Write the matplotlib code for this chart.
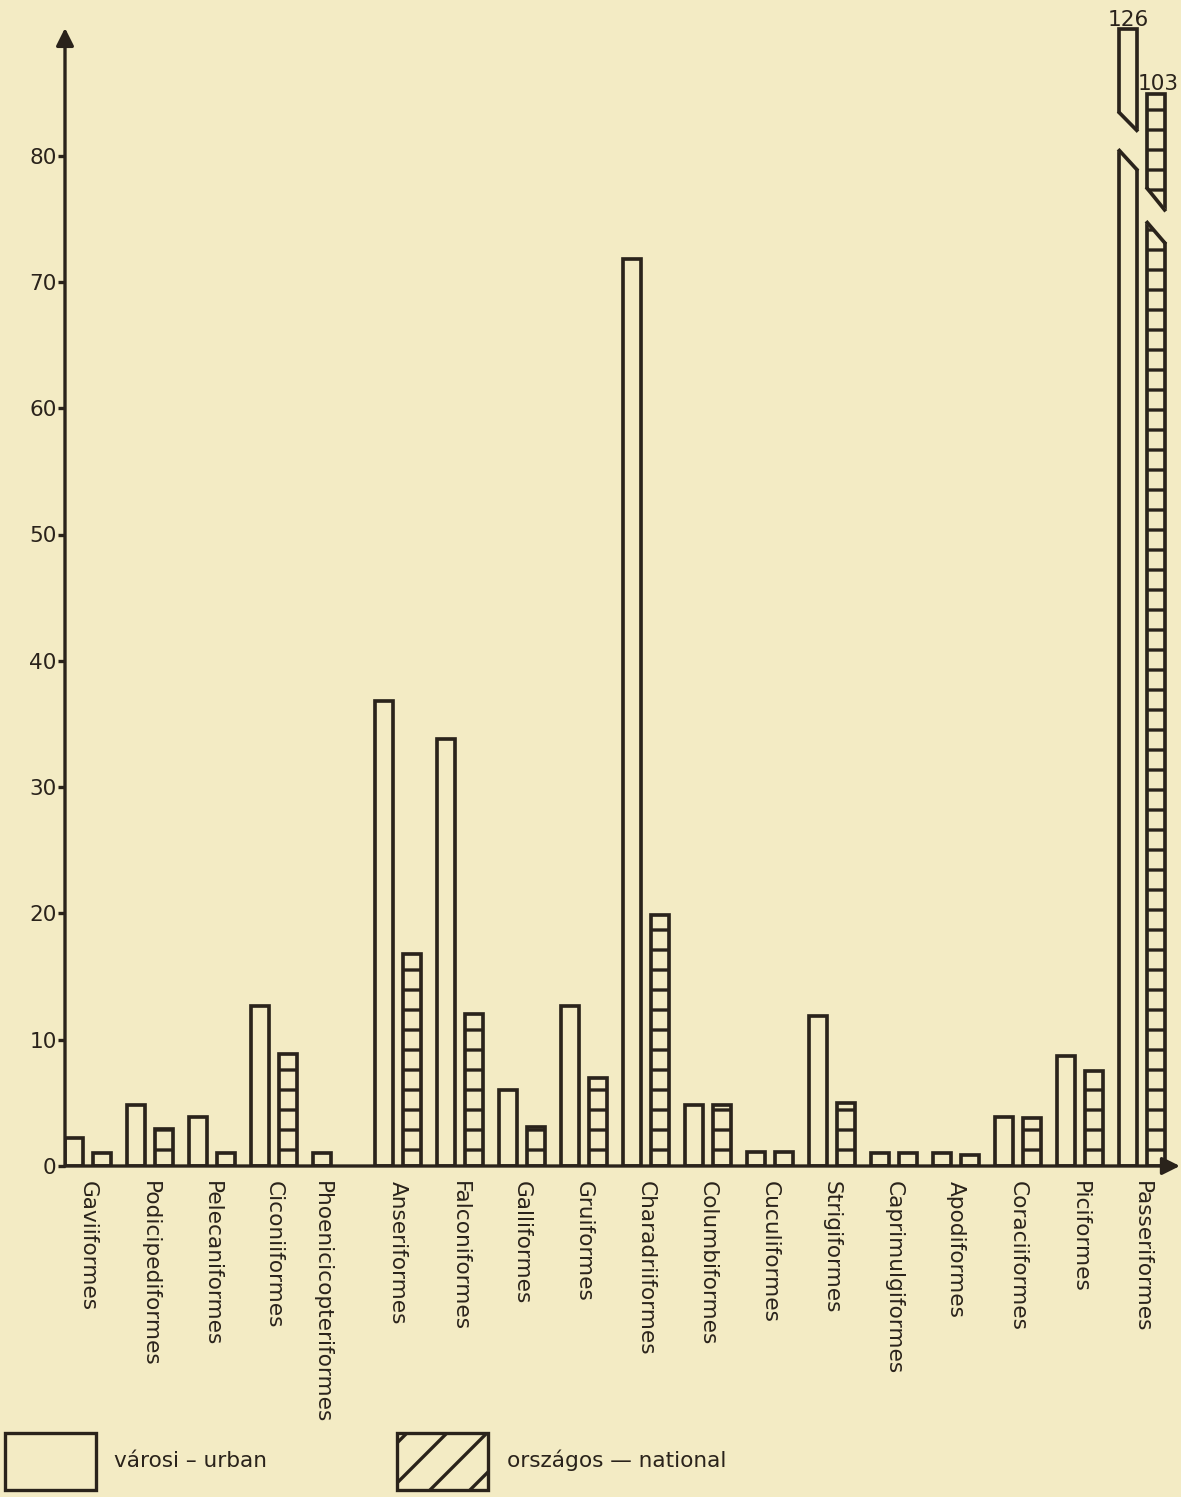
import matplotlib
matplotlib.use("Agg")
import matplotlib.pyplot as plt
from matplotlib.patches import Patch, Polygon
import numpy as np

# ---------------- data ----------------
orders = ["Gaviiformes", "Podicipediformes", "Pelecaniformes", "Ciconiiformes",
          "Phoenicicopteriformes", "Anseriformes", "Falconiformes", "Galliformes",
          "Gruiformes", "Charadriiformes", "Columbiformes", "Cuculiformes",
          "Strigiformes", "Caprimulgiformes", "Apodiformes", "Coraciiformes",
          "Piciformes", "Passeriformes"]
urban = [2.2, 4.8, 3.9, 12.7, 0, 36.8, 33.8, 6.0, 12.7, 71.8, 4.8, 1.1,
         11.9, 1.0, 1.0, 3.9, 8.7, 126]
national = [1.0, 2.9, 1.0, 8.9, 1.0, 16.8, 12.0, 3.1, 7.0, 19.9, 4.8, 1.1,
            5.0, 1.0, 0.9, 3.8, 7.5, 103]
y_ticks = list(range(0, 81, 10))
legend_labels = ["városi – urban", "országos — national"]

# ---------------- style ----------------
BG = "#f3ebc4"
INK = "#2a231b"
DPI = 120
FS = 13
CAP = 88  # values above this are drawn as broken bars
BREAKS = {
    "urban": dict(top=90.0, hi=(83.4, 82.0), lo=(80.4, 78.9), dx=0.0),
    "national": dict(top=84.9, hi=(77.4, 75.7), lo=(74.7, 73.1), dx=0.03),
}

plt.rcParams["font.family"] = ["DejaVu Sans"]
plt.rcParams["hatch.color"] = INK
plt.rcParams["hatch.linewidth"] = 2.0

fig = plt.figure(figsize=(1181 / DPI, 1497 / DPI), dpi=DPI, facecolor=BG)
ax = fig.add_axes([65 / 1181, (1497 - 1166) / 1497, (1181 - 65) / 1181, 1166 / 1497])
ax.set_facecolor(BG)

n = len(orders)
off = 0.225
w = 0.28
ymax = 1166 / 12.63
ax.set_xlim((65 - 88) / 62, (1181 - 88) / 62)
ax.set_ylim(0, ymax)

series = [("urban", urban, None, -1), ("national", national, "-", 1)]
for name, vals, hatch, sign in series:
    for i, v in enumerate(vals):
        if v <= 0:
            continue
        xi = i + sign * off
        if name == "national" and urban[i] <= 0:
            xi = i - off
        h = v if v < CAP else BREAKS[name]["top"]
        ax.bar(xi, h, width=w, facecolor=BG, edgecolor=INK, linewidth=2.2,
               hatch=hatch, zorder=2)
        if v >= CAP:
            b = BREAKS[name]
            x0, x1 = xi - w / 2, xi + w / 2
            e = 0.04
            gap = Polygon([(x0 - e, b["hi"][0]), (x1 + e, b["hi"][1]),
                           (x1 + e, b["lo"][1]), (x0 - e, b["lo"][0])],
                          closed=True, facecolor=BG, edgecolor="none", zorder=3)
            ax.add_patch(gap)
            ax.plot([x0, x1], list(b["hi"]), color=INK, lw=2.2, zorder=4,
                    solid_capstyle="projecting")
            ax.plot([x0, x1], list(b["lo"]), color=INK, lw=2.2, zorder=4,
                    solid_capstyle="projecting")
            ax.text(xi + b["dx"], b["top"] + 0.3, f"{v:g}", ha="center", va="baseline",
                    fontsize=FS, color=INK, clip_on=False)

# axes with arrows
for s in ax.spines.values():
    s.set_visible(False)
ax.annotate("", xy=(0, (1166 - 28) / 1166), xytext=(0, 0), xycoords="axes fraction",
            arrowprops=dict(arrowstyle="-|>", lw=2.0, color=INK, mutation_scale=22,
                            shrinkA=0, shrinkB=0), zorder=5)
ax.annotate("", xy=(0.999, 0), xytext=(0, 0), xycoords="axes fraction",
            arrowprops=dict(arrowstyle="-|>", lw=2.0, color=INK, mutation_scale=22,
                            shrinkA=0, shrinkB=0), zorder=5)

ax.set_yticks(y_ticks)
ax.set_yticklabels([str(t) for t in y_ticks])
ax.tick_params(axis="y", direction="out", length=4, width=2, color=INK,
               labelsize=FS, labelcolor=INK, pad=1)

tick_x = [i if urban[i] > 0 else i - off for i in range(n)]
ax.set_xticks(tick_x)
ax.set_xticklabels(orders, rotation=-90, ha="center", va="top")
ax.tick_params(axis="x", length=0, labelsize=FS, labelcolor=INK, pad=9)

handles = [Patch(facecolor=BG, edgecolor=INK, linewidth=2.0, label=legend_labels[0]),
           Patch(facecolor=BG, edgecolor=INK, linewidth=2.0, hatch="/", label=legend_labels[1])]
fig.legend(handles=handles, loc="lower left", bbox_to_anchor=(5 / 1181, 7 / 1497),
           ncol=2, frameon=False, fontsize=FS, handlelength=4.2, handleheight=3.7,
           handletextpad=0.85, columnspacing=6.0, borderpad=0, borderaxespad=0,
           labelcolor=INK)

fig.savefig("out.png", dpi=DPI, facecolor=BG)
